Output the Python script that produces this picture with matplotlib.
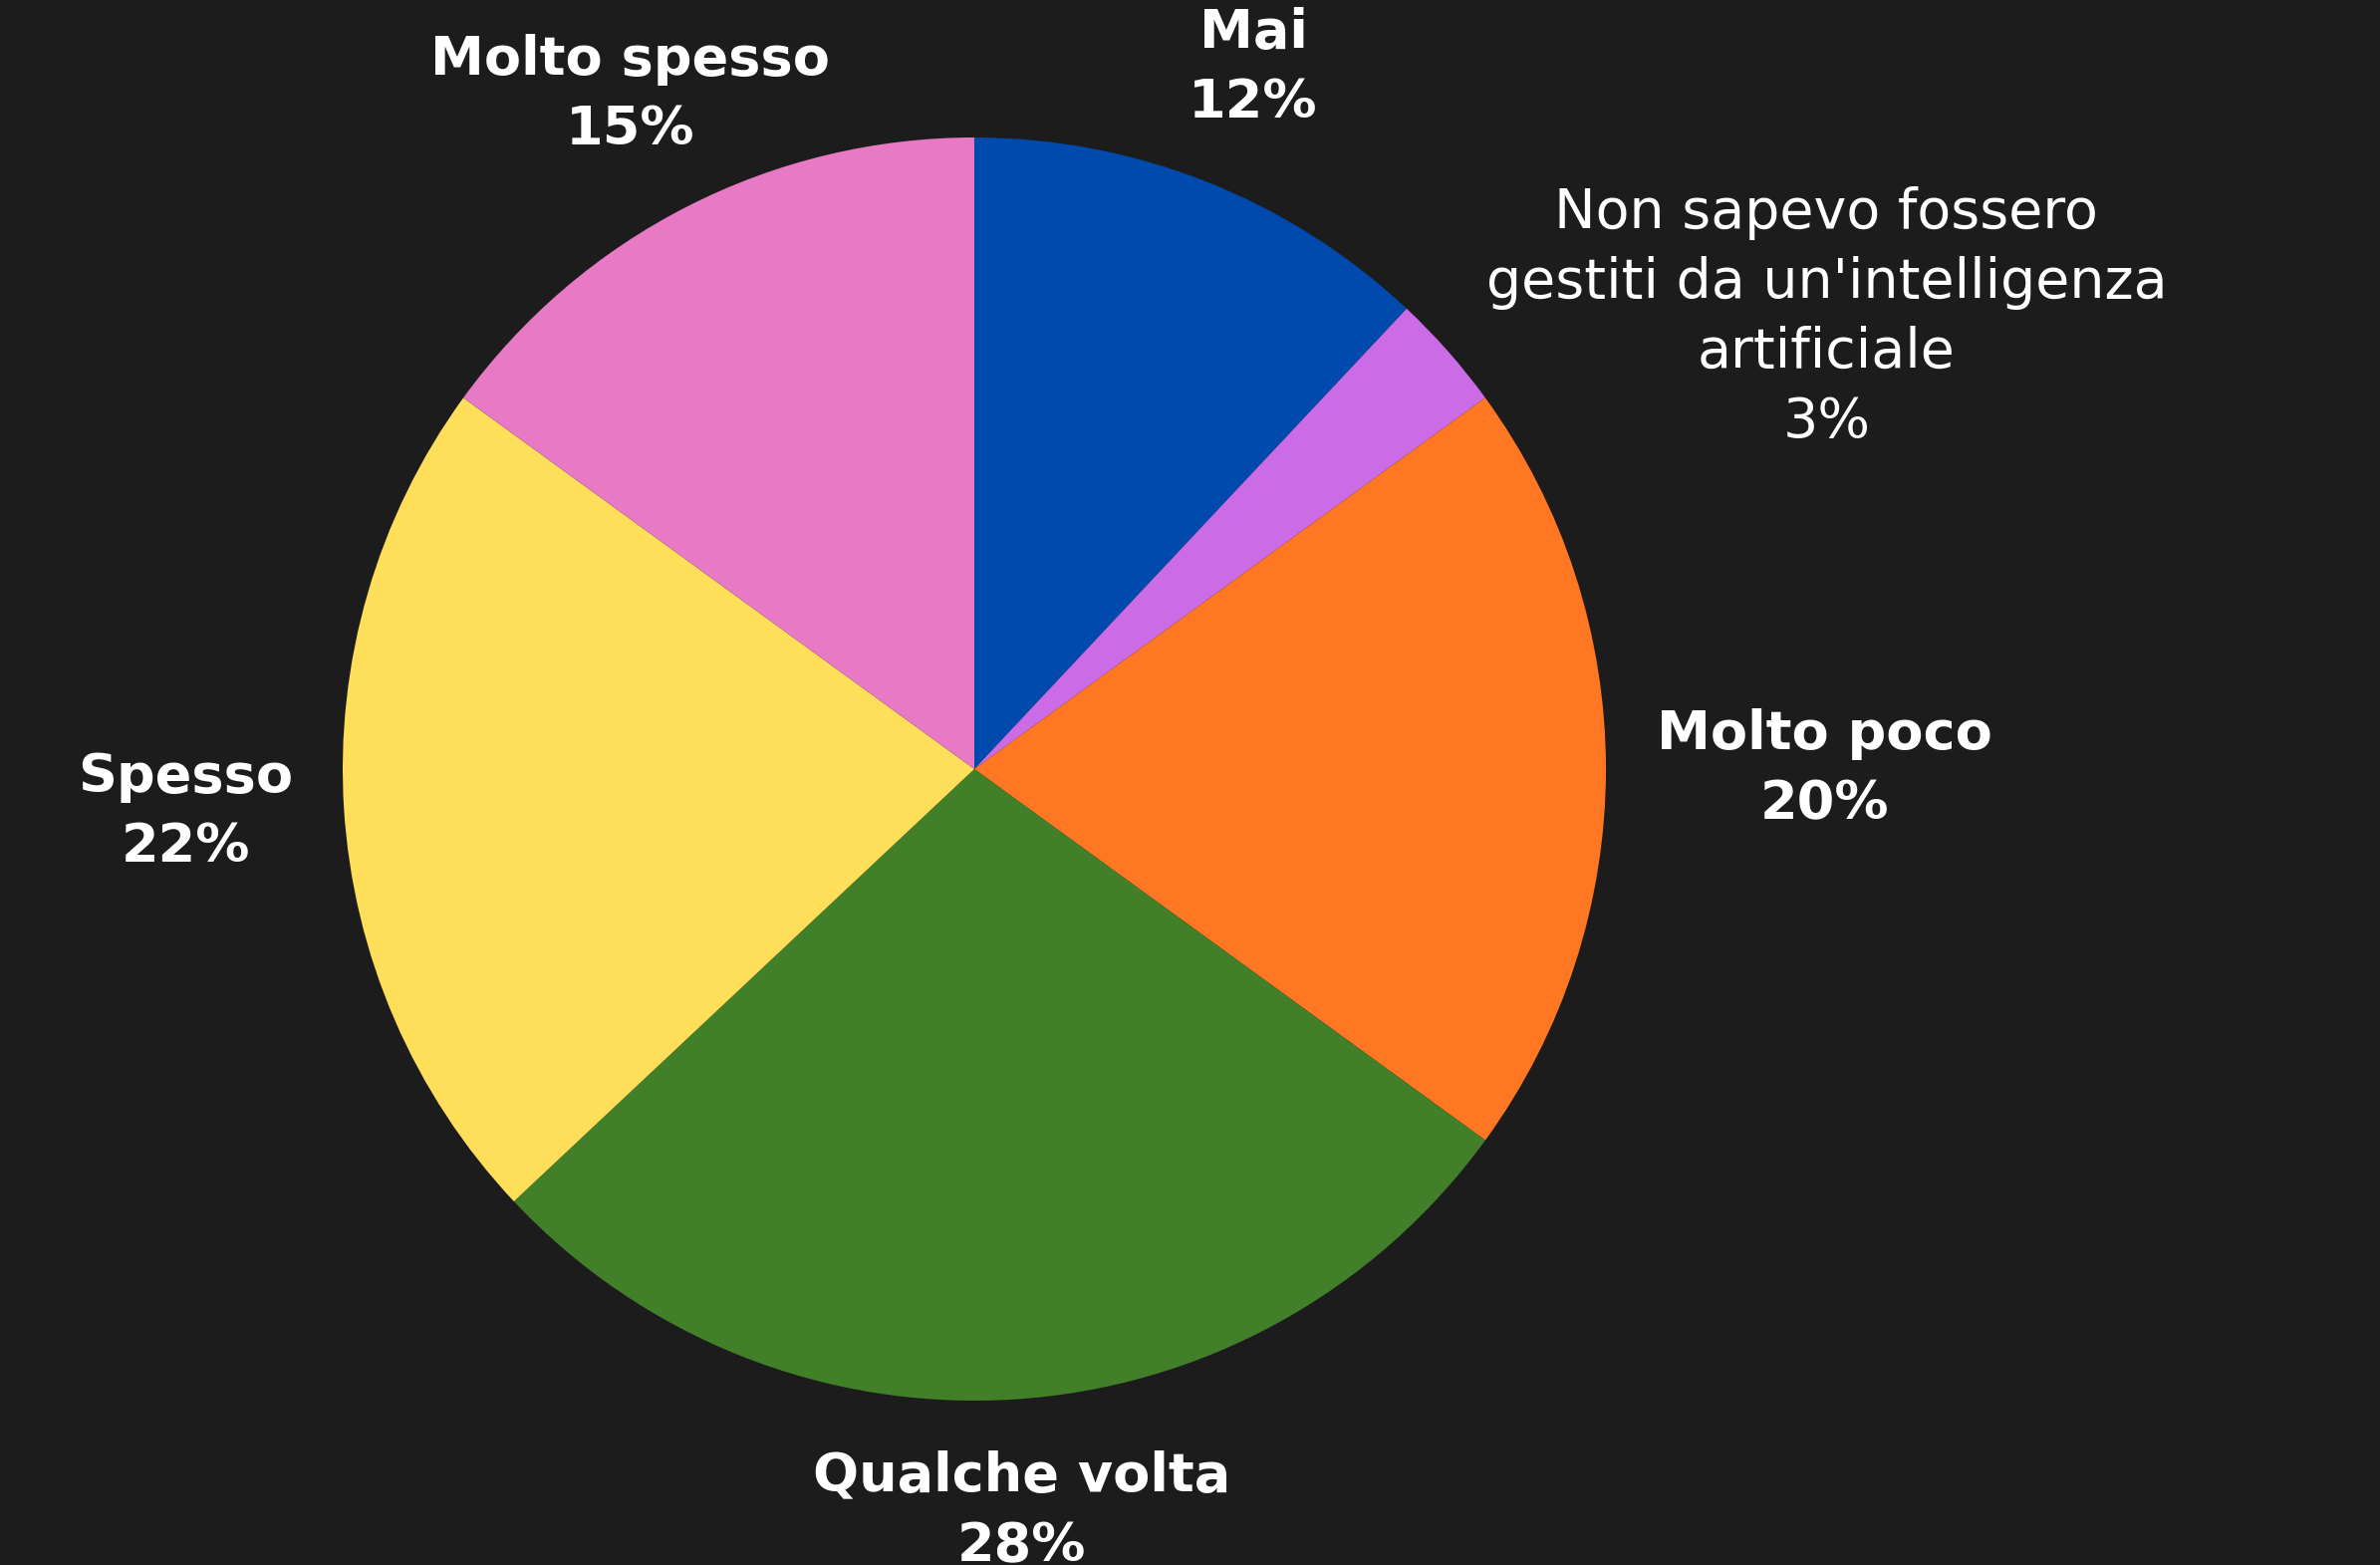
import numpy as np
import matplotlib.pyplot as plt

# Survey answers, clockwise from the top
labels = ['Mai', "Non sapevo fossero\ngestiti da un'intelligenza\nartificiale",
          'Molto poco', 'Qualche volta', 'Spesso', 'Molto spesso']
values = [12, 3, 20, 28, 22, 15]
colors = ['#004aad', '#cb6ce6', '#ff7722', '#417f28', '#ffde59', '#e879c4']

bg = '#1c1c1c'

fig = plt.figure(figsize=(23.89, 15.71), dpi=100, facecolor=bg)
ax = fig.add_axes([0, 0, 1, 1])
ax.set_facecolor(bg)

wedges, _ = ax.pie(values, colors=colors, startangle=90, counterclock=False,
                   radius=1, wedgeprops=dict(linewidth=0))

# place labels outside each wedge
total = sum(values)
cum = 0
for lab, v in zip(labels, values):
    mid = np.deg2rad(90 - (cum + v / 2) / total * 360)
    cum += v
    x, y = np.cos(mid), np.sin(mid)
    d = 1.08
    if abs(x) < 0.6:
        ha = 'center'
        tx = 1.2 * x
    else:
        ha = 'left' if x > 0 else 'right'
        tx = d * x
    if abs(y) < 0.8:
        va, ty = 'center', d * y
    elif y > 0:
        va, ty = 'bottom', 1.09 * y
    else:
        va, ty = 'top', d * y
    txt = lab + '\n' + f'{v}%'
    if '\n' in lab:
        ax.text(tx, ty, txt, ha=ha, va=va, multialignment='center',
                color='white', fontsize=40, fontweight='normal',
                family='DejaVu Sans', linespacing=1.38)
    else:
        ax.text(tx, ty, txt, ha=ha, va=va, multialignment='center',
                color='white', fontsize=39, fontweight='bold',
                family='DejaVu Sans', linespacing=1.45)

# keep the pie where it sits in the original
cx, cy, r = 978, 772, 634
W, H = 2389, 1571
ax.set_xlim(-cx / r, (W - cx) / r)
ax.set_ylim(-(H - cy) / r, cy / r)
ax.set_aspect('auto')
ax.axis('off')

fig.savefig('out.png', dpi=100, facecolor=bg)
